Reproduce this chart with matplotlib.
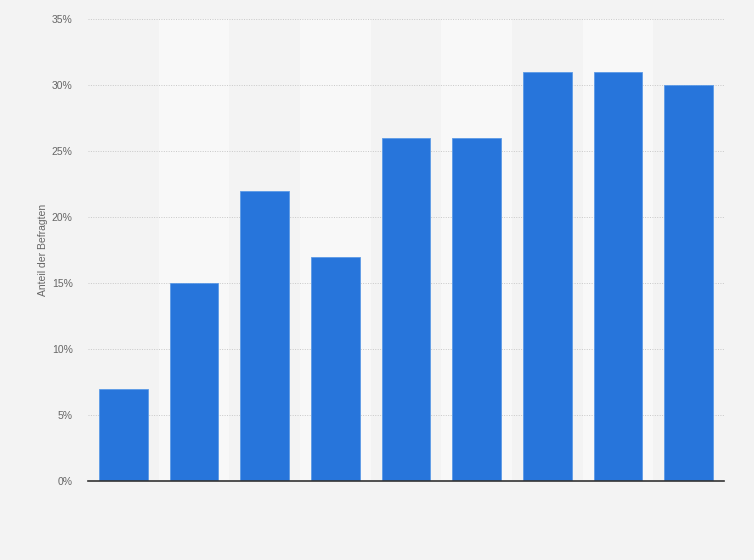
import numpy as np
from matplotlib import pyplot as plt
from matplotlib.ticker import FuncFormatter

values = [7, 15, 22, 17, 26, 26, 31, 31, 30]
y_ticks = [0, 5, 10, 15, 20, 25, 30, 35]
y_label = 'Anteil der Befragten'

bg = '#f3f3f3'
band = '#f8f8f8'
bar_color = '#2775db'

plt.rcParams['font.family'] = ['Liberation Sans', 'DejaVu Sans']

fig = plt.figure(figsize=(7.54, 5.6), dpi=100, facecolor=bg)
ax = fig.add_axes([88 / 754, 1 - 481 / 560, 636 / 754, 462 / 560])
ax.set_facecolor(bg)

x = np.arange(len(values))
for i in x:
    if i % 2 == 1:
        ax.axvspan(i - 0.5, i + 0.5, color=band, zorder=0, lw=0)

ax.bar(x, values, width=0.69, color=bar_color, edgecolor='#5c9ae6',
       linewidth=0.6, zorder=3)

ax.set_xlim(-0.5, len(values) - 0.5)
ax.set_ylim(0, 35)
ax.set_yticks(y_ticks)
ax.yaxis.set_major_formatter(FuncFormatter(lambda v, p: f'{v:.0f}%'))
ax.set_xticks([])
ax.tick_params(axis='y', length=0, pad=11, labelsize=7.5, labelcolor='#666666')
ax.grid(axis='y', linestyle=(0, (1, 1.5)), color='#c8c8c8', linewidth=0.7, zorder=1)

for side in ['top', 'right', 'left']:
    ax.spines[side].set_visible(False)
ax.spines['bottom'].set_color('#333333')
ax.spines['bottom'].set_linewidth(1.2)
ax.spines['bottom'].set_zorder(4)

ax.set_ylabel(y_label, fontsize=7.5, color='#666666', labelpad=3)

plt.savefig('out.png', dpi=100, facecolor=bg)
